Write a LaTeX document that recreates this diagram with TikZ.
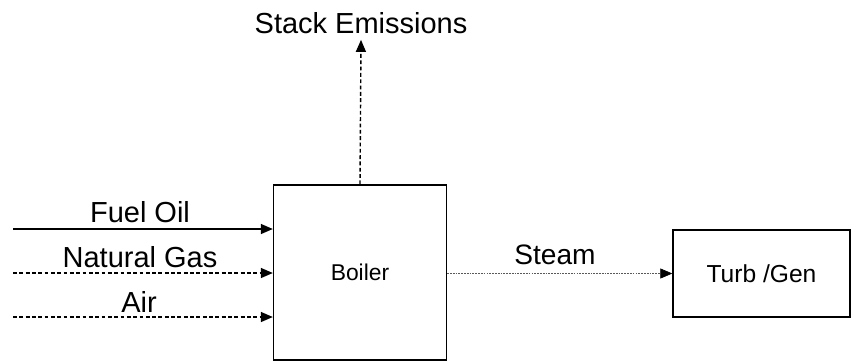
\documentclass[tikz,border=0pt]{standalone}
\usepackage{fontspec}
\setmainfont{Liberation Sans}
\usetikzlibrary{positioning,arrows.meta}

\begin{document}
\begin{tikzpicture}[x=0.02cm,y=-0.02cm,
    unitbox/.style={draw,thick,inner sep=0pt},
    flowlbl/.style={font=\fontsize{16.5}{18}\selectfont},
    solidflow/.style={thick,-{Triangle[length=2.4mm,width=2mm]}},
    dashflow/.style={thick,dash pattern=on 2.2pt off 1.4pt,-{Triangle[length=2.4mm,width=2mm]}},
    dotflow/.style={gray!70!black,dash pattern=on 1pt off 0.6pt,-{Triangle[length=2.4mm,width=2mm,black]}}]
  \useasboundingbox (0,0) rectangle (851,362);

  % ── Units ──
  \node[unitbox,minimum width=3.46cm,minimum height=3.5cm,
        font=\fontsize{13}{15}\selectfont] (boiler) at (360,272.5) {Boiler};
  \node[unitbox,minimum width=3.54cm,minimum height=1.74cm,
        font=\fontsize{14}{16}\selectfont] (turb) at (761.5,273.5) {Turb /Gen};

  % ── Inputs ──
  \coordinate (fuelin) at (13,229);
  \coordinate (gasin) at (13,273);
  \coordinate (airin) at (13,317);
  \draw[solidflow] (fuelin) -- (fuelin -| boiler.west);
  \draw[dashflow] (gasin) -- (gasin -| boiler.west);
  \draw[dashflow] (airin) -- (airin -| boiler.west);
  \node[flowlbl] (fuellbl) at (140,212) {Fuel Oil};
  \node[flowlbl] (gaslbl) at (140,257) {Natural Gas};
  \node[flowlbl] (airlbl) at (139,302) {Air};

  % ── Steam ──
  \draw[dotflow] (boiler.east |- turb.west) -- (turb.west);
  \node[flowlbl,font=\fontsize{16}{18}\selectfont] (steamlbl) at (555,255) {Steam};

  % ── Stack emissions ──
  \node[flowlbl] (stack) at (361,23) {Stack Emissions};
  \draw[dashflow] (boiler.north) -- (stack.south);
\end{tikzpicture}
\end{document}
